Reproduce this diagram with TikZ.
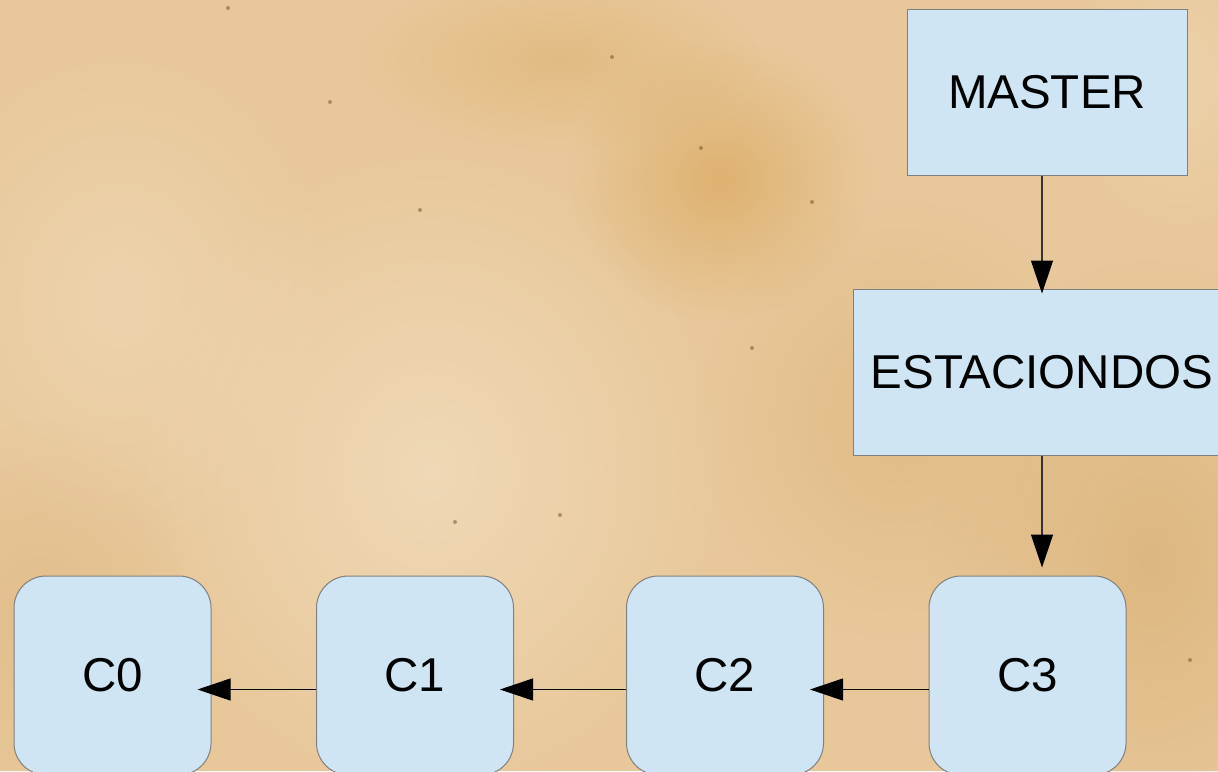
\documentclass[tikz,border=0pt]{standalone}
\usepackage{fontspec}
\setmainfont{Liberation Sans}
\usetikzlibrary{arrows.meta,fadings}

\definecolor{paper}{RGB}{232,200,154}
\definecolor{paperlight}{RGB}{242,222,192}
\definecolor{paperstain}{RGB}{218,168,95}
\definecolor{paperdark}{RGB}{214,172,112}
\definecolor{boxfill}{RGB}{207,229,243}
\definecolor{boxline}{RGB}{128,128,128}

\tikzfading[name=softspot, inner color=transparent!0, outer color=transparent!100]

\tikzset{
  label font/.style={font=\fontsize{47.5}{57}\selectfont},
  refbox/.style={draw=boxline, line width=1pt, fill=boxfill, inner sep=0pt, label font},
  commitbox/.style={refbox, rounded corners=32pt, minimum width=197pt, minimum height=199pt},
  link/.style={draw=black!80, line width=1.2pt, -{Triangle[length=33pt,width=22pt,fill=black,color=black]}},
  stain/.style={path fading=softspot},
}

\begin{document}
\begin{tikzpicture}[x=1pt,y=-1pt]
  \clip (0,0) rectangle (1218,771);
  \useasboundingbox (0,0) rectangle (1218,771);

  % aged paper background
  \fill[paper] (0,0) rectangle (1218,771);
  \fill[paperlight, opacity=0.75, stain] (430,470) ellipse (300pt and 330pt);
  \fill[paperlight, opacity=0.5, stain] (120,300) ellipse (220pt and 260pt);
  \fill[paperstain, opacity=0.7, stain] (720,180) ellipse (150pt and 140pt);
  \fill[paperstain, opacity=0.4, stain] (560,60) ellipse (200pt and 90pt);
  \fill[paperdark, opacity=0.6, stain] (1150,560) ellipse (220pt and 300pt);
  \fill[paperdark, opacity=0.45, stain] (900,420) ellipse (200pt and 220pt);
  \fill[paperdark, opacity=0.35, stain] (40,620) ellipse (160pt and 200pt);
  \fill[paperlight, opacity=0.4, stain] (1180,80) ellipse (120pt and 160pt);
  \foreach \px/\py in {701/148, 812/202, 752/348, 612/57, 330/102, 1052/347, 1190/660, 420/210, 560/515, 228/8, 455/522}
    \fill[brown!60!black, opacity=0.5] (\px,\py) circle (2pt);

  % branch pointers
  \node[refbox, minimum width=280pt, minimum height=166pt] (master) at (1047,92) {MASTER};
  \node[refbox, minimum width=378pt, minimum height=166pt] (estacion) at (1042,372) {ESTACIONDOS};

  % commits
  \node[commitbox] (c0) at (112.5,675.5) {C0};
  \node[commitbox] (c1) at (415,675.5) {C1};
  \node[commitbox] (c2) at (725,675.5) {C2};
  \node[commitbox] (c3) at (1027.5,675.5) {C3};

  % pointer links
  \draw[link, shorten >=-5pt] (master.south -| estacion.north) -- (estacion.north);
  \draw[link, shorten >=8pt] (estacion.south) -- (estacion.south |- c3.north);

  % parent links
  \draw[link, draw=black, line width=0.9pt, shorten >=-14pt] ([yshift=-14pt]c3.west) -- ([yshift=-14pt]c2.east);
  \draw[link, draw=black, line width=0.9pt, shorten >=-14pt] ([yshift=-14pt]c2.west) -- ([yshift=-14pt]c1.east);
  \draw[link, draw=black, line width=0.9pt, shorten >=-14pt] ([yshift=-14pt]c1.west) -- ([yshift=-14pt]c0.east);
\end{tikzpicture}
\end{document}
